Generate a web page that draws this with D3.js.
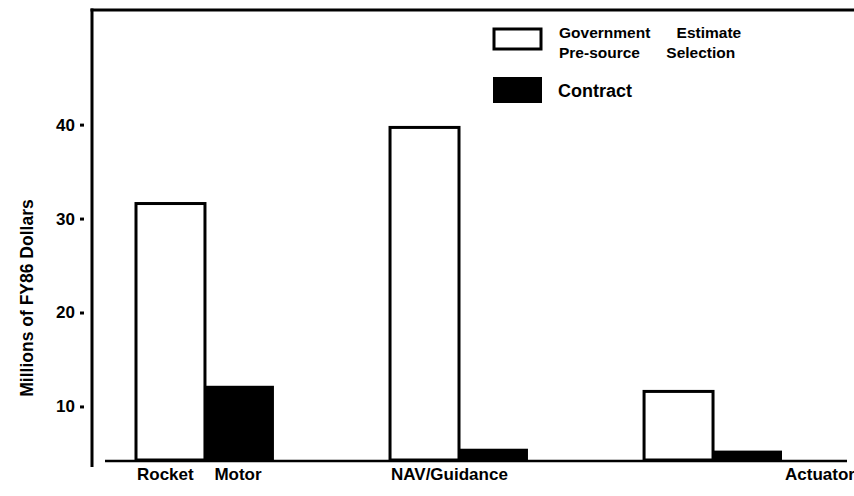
<!DOCTYPE html>
<html>
<head>
<meta charset="utf-8">
<script src="https://cdn.jsdelivr.net/npm/d3@7"></script>
<style>
  html, body { margin: 0; padding: 0; background: #fff; }
  svg { display: block; }
  text { font-family: "Liberation Sans", Arial, Helvetica, sans-serif; font-weight: bold; fill: #000; }
</style>
</head>
<body>
<svg id="chart" width="854" height="496"></svg>
<script>
// ---- data ----
const categories = ["Rocket Motor", "NAV/Guidance", "Actuator"];
const seriesNames = ["Government Estimate Pre-source Selection", "Contract"];
const governmentEstimate = [31.6, 39.7, 11.6];
const contract = [12.2, 5.5, 5.3];
const yTicks = [10, 20, 30, 40];
const yTitle = "Millions of FY86 Dollars";
const baseValue = 4.3;   // axis baseline value (chart does not start at 0)
const topValue = 52.2;

// ---- layout ----
const svg = d3.select("#chart");
const W = 854, H = 496;
const axisX = 92, frameTop = 10, baseY = 460;

const y = d3.scaleLinear().domain([baseValue, topValue]).range([baseY, frameTop]);
const x = d3.scaleBand().domain(categories).range([136, 782]).paddingInner(0.457).paddingOuter(0);
const xs = d3.scaleBand().domain(["gov", "contract"]).range([0, x.bandwidth()]).padding(0);

// frame: left and top lines
svg.append("line").attr("x1", axisX).attr("x2", axisX).attr("y1", frameTop - 1.5).attr("y2", 467)
  .attr("stroke", "#000").attr("stroke-width", 3);
svg.append("line").attr("x1", axisX - 1.5).attr("x2", W).attr("y1", frameTop).attr("y2", frameTop)
  .attr("stroke", "#000").attr("stroke-width", 3);

// y axis ticks (detached dashes left of the frame line)
const yAxis = d3.axisLeft(y).tickValues(yTicks).tickSize(4).tickPadding(5).tickFormat(d3.format("d"));
const gy = svg.append("g").attr("transform", `translate(${84},0)`).call(yAxis);
gy.select(".domain").remove();
gy.selectAll(".tick line").attr("stroke", "#000").attr("stroke-width", 3);
gy.selectAll(".tick text").attr("font-size", 17).attr("font-family", null).style("font-weight", "bold");

// y title
svg.append("text")
  .attr("transform", `translate(33,298) rotate(-90)`)
  .attr("text-anchor", "middle")
  .attr("font-size", 17.5)
  .text(yTitle);

// baseline
svg.append("line").attr("x1", 105).attr("x2", 847).attr("y1", baseY + 1).attr("y2", baseY + 1)
  .attr("stroke", "#000").attr("stroke-width", 2.5);

// bars
const groups = svg.selectAll("g.cat").data(categories).join("g")
  .attr("class", "cat")
  .attr("transform", d => `translate(${x(d)},0)`);

groups.append("rect")
  .attr("x", xs("gov"))
  .attr("width", xs.bandwidth())
  .attr("y", (d, i) => y(governmentEstimate[i]))
  .attr("height", (d, i) => y(baseValue) - y(governmentEstimate[i]))
  .attr("fill", "#fff").attr("stroke", "#000").attr("stroke-width", 3);

groups.append("rect")
  .attr("x", xs("contract") - 1)
  .attr("width", xs.bandwidth() + 1)
  .attr("y", (d, i) => y(contract[i]))
  .attr("height", (d, i) => y(baseValue) - y(contract[i]))
  .attr("fill", "#000");

// category labels
svg.selectAll("text.cat").data(categories).join("text")
  .attr("class", "cat")
  .attr("x", (d, i) => i === categories.length - 1 ? W + 1 : x(d) + 1)
  .attr("y", 480)
  .attr("text-anchor", (d, i) => i === categories.length - 1 ? "end" : "start")
  .attr("font-size", 17)
  .attr("word-spacing", 16)
  .text(d => d);

// legend
const lg = svg.append("g");
lg.append("rect").attr("x", 494).attr("y", 29).attr("width", 47).attr("height", 20)
  .attr("fill", "#fff").attr("stroke", "#000").attr("stroke-width", 3);
lg.append("rect").attr("x", 493).attr("y", 77).attr("width", 49).attr("height", 26).attr("fill", "#000");
const words = seriesNames[0].split(" ");
const lt = lg.append("text").attr("font-size", 15.5).attr("word-spacing", 22);
lt.append("tspan").attr("x", 559).attr("y", 38).text(words.slice(0, 2).join(" "));
lt.append("tspan").attr("x", 559).attr("y", 57.5).text(words.slice(2).join(" "));
lg.append("text").attr("x", 558).attr("y", 97).attr("font-size", 18).text(seriesNames[1]);
</script>
</body>
</html>
